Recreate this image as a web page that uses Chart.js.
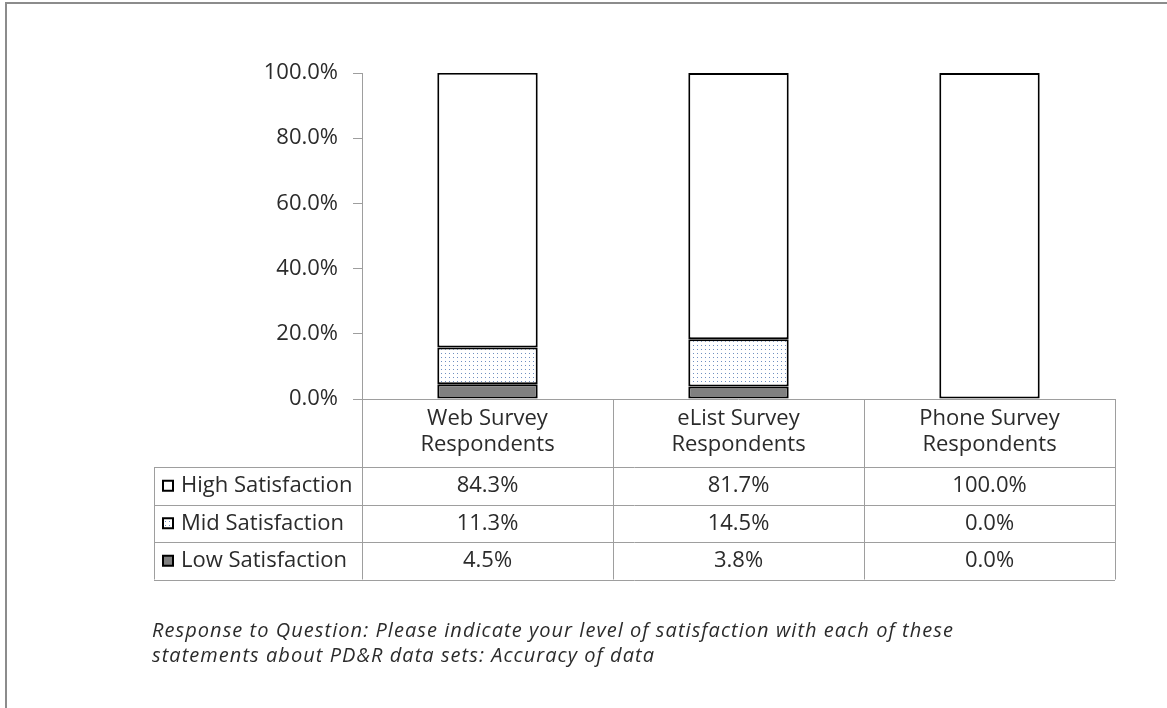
<!DOCTYPE html>
<html>
<head>
<meta charset="utf-8">
<script src="https://cdn.jsdelivr.net/npm/chart.js@4.4.1/dist/chart.umd.min.js"></script>
<style>
  html, body { margin: 0; padding: 0; background: #fff; }
  #wrap { position: relative; width: 1167px; height: 708px; overflow: hidden; }
  #frame { position: absolute; left: 5px; top: 2px; width: 1200px; height: 800px; border: 2px solid #8c8c8c; box-sizing: border-box; }
  #chart { position: absolute; left: 0; top: 0; }
  #caption {
    position: absolute; left: 152px; top: 617px; width: 980px;
    font-family: "Open Sans", sans-serif; font-style: italic; font-size: 20px;
    line-height: 25px; color: #2b2b2b; letter-spacing: 1.05px;
  }
</style>
</head>
<body>
<div id="wrap">
  <div id="frame"></div>
  <canvas id="chart" width="1167" height="708"></canvas>
  <div id="caption">Response to Question: Please indicate your level of satisfaction with each of these<br>statements about PD&amp;R data sets: Accuracy of data</div>
</div>
<script>
// Categories (two-line labels) and series values in percent
const categories = [
  ["Web Survey", "Respondents"],
  ["eList Survey", "Respondents"],
  ["Phone Survey", "Respondents"],
];
const seriesNames = ["High Satisfaction", "Mid Satisfaction", "Low Satisfaction"];
const highValues = [84.3, 81.7, 100.0];
const midValues = [11.3, 14.5, 0.0];
const lowValues = [4.5, 3.8, 0.0];
const yTicks = [0, 20, 40, 60, 80, 100];

const textColor = "#2b2b2b";
const gridGrey = "#9e9e9e";
const tableFont = '22px "Open Sans", sans-serif';

// Dotted fill for the mid series
function dotPattern() {
  const c = document.createElement("canvas");
  c.width = 4;
  c.height = 4;
  const g = c.getContext("2d");
  g.fillStyle = "#ffffff";
  g.fillRect(0, 0, 4, 4);
  g.fillStyle = "#6f8fc0";
  g.fillRect(1, 1, 1, 1);
  return g.createPattern(c, "repeat");
}

// Data table under the plot, drawn from the x scale positions
const dataTable = {
  id: "dataTable",
  afterDraw(chart) {
    const ctx = chart.ctx;
    const x = chart.scales.x;
    const area = chart.chartArea;
    const top = area.bottom;
    const headerH = 68;
    const rowH = 37.5;
    const labelLeft = 154;
    const step = (area.right - area.left) / categories.length;
    const bottom = top + headerH + rowH * 3;

    ctx.save();
    ctx.strokeStyle = gridGrey;
    ctx.lineWidth = 1;
    ctx.beginPath();
    // top line of the header
    ctx.moveTo(area.left, top + 0.5);
    ctx.lineTo(area.right, top + 0.5);
    // row lines
    for (let r = 0; r <= 3; r++) {
      const y = Math.round(top + headerH + rowH * r) + 0.5;
      ctx.moveTo(labelLeft, y);
      ctx.lineTo(area.right, y);
    }
    // column lines
    for (let c = 0; c <= categories.length; c++) {
      const xx = Math.round(area.left + step * c) + 0.5;
      ctx.moveTo(xx, top);
      ctx.lineTo(xx, bottom);
    }
    ctx.moveTo(labelLeft + 0.5, top + headerH);
    ctx.lineTo(labelLeft + 0.5, bottom);
    ctx.stroke();

    ctx.fillStyle = textColor;
    ctx.font = tableFont;
    ctx.textAlign = "center";
    ctx.textBaseline = "middle";
    categories.forEach((lines, i) => {
      const cx = x.getPixelForValue(i);
      ctx.fillText(lines[0], cx, top + 20);
      ctx.fillText(lines[1], cx, top + 46);
    });

    const rows = [highValues, midValues, lowValues];
    const fills = [
      chart.data.datasets[2].backgroundColor,
      chart.data.datasets[1].backgroundColor,
      chart.data.datasets[0].backgroundColor,
    ];
    rows.forEach((vals, r) => {
      const cy = top + headerH + rowH * r + rowH / 2;
      vals.forEach((v, i) => {
        ctx.textAlign = "center";
        ctx.fillText(v.toFixed(1) + "%", x.getPixelForValue(i), cy);
      });
      // legend key
      ctx.fillStyle = fills[r];
      ctx.fillRect(163, cy - 5, 10, 10);
      ctx.strokeStyle = "#000";
      ctx.lineWidth = 2;
      ctx.strokeRect(163, cy - 5, 10, 10);
      ctx.fillStyle = textColor;
      ctx.textAlign = "left";
      ctx.fillText(seriesNames[r], 181, cy);
    });
    ctx.restore();
  },
};

const ctx = document.getElementById("chart").getContext("2d");
new Chart(ctx, {
  type: "bar",
  data: {
    labels: categories.map(c => c.join(" ")),
    datasets: [
      {
        label: "Low Satisfaction",
        data: lowValues,
        backgroundColor: "#808080",
        borderColor: "#000",
        borderWidth: 2,
        borderSkipped: false,
      },
      {
        label: "Mid Satisfaction",
        data: midValues,
        backgroundColor: dotPattern(),
        borderColor: "#000",
        borderWidth: 2,
        borderSkipped: false,
      },
      {
        label: "High Satisfaction",
        data: highValues,
        backgroundColor: "#ffffff",
        borderColor: "#000",
        borderWidth: 2,
        borderSkipped: false,
      },
    ],
  },
  options: {
    responsive: false,
    animation: false,
    events: [],
    layout: {
      padding: { left: 6, top: 73, right: 52, bottom: 309 },
    },
    datasets: {
      bar: { categoryPercentage: 1.0, barPercentage: 0.4 },
    },
    plugins: {
      legend: { display: false },
      tooltip: { enabled: false },
    },
    scales: {
      x: {
        stacked: true,
        display: false,
      },
      y: {
        stacked: true,
        min: 0,
        max: 100,
        afterFit: s => { s.width = 356; },
        afterBuildTicks: s => { s.ticks = yTicks.map(v => ({ value: v })); },
        border: { color: gridGrey, width: 1 },
        grid: {
          drawOnChartArea: false,
          tickLength: 9,
          color: gridGrey,
        },
        ticks: {
          padding: 15,
          color: textColor,
          font: { family: "Open Sans", size: 22 },
          callback: v => v.toFixed(1) + "%",
        },
      },
    },
  },
  plugins: [dataTable],
});
</script>
</body>
</html>
